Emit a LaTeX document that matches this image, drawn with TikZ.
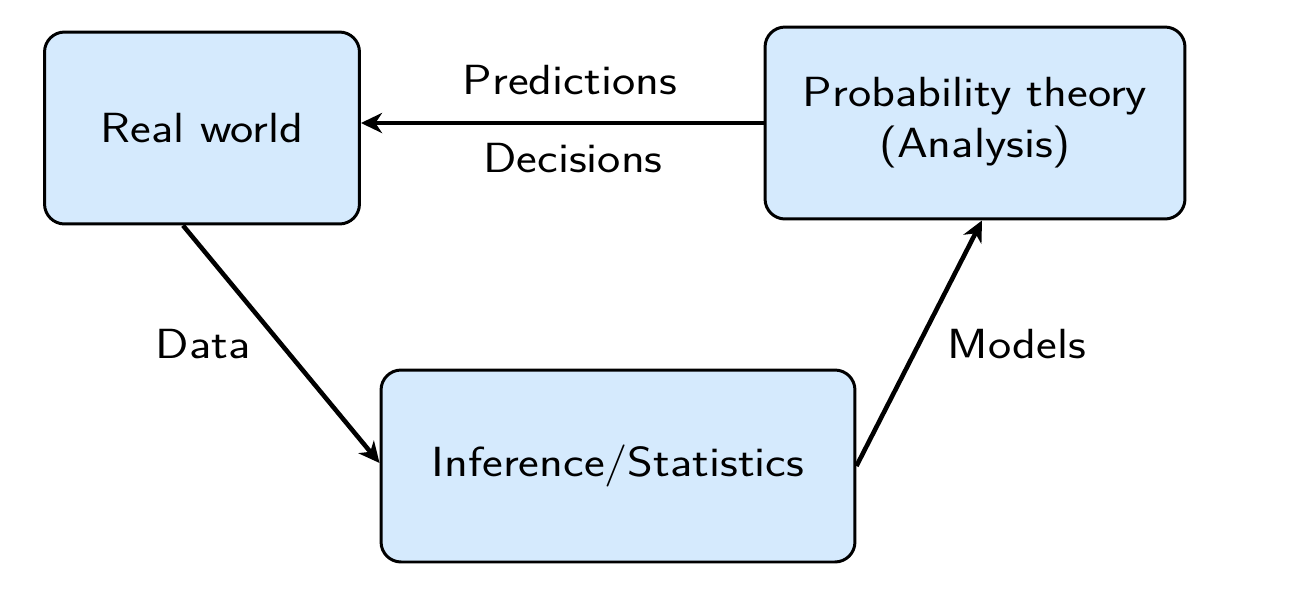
\documentclass[tikz,border=0pt]{standalone}
\usepackage{fontspec}
\setsansfont{Latin Modern Sans}[FakeStretch=1.17]
\usetikzlibrary{arrows.meta,positioning}
\definecolor{boxblue}{RGB}{213,234,253}

\tikzset{
  block/.style={draw=black, line width=1.7pt, fill=boxblue, rounded corners=0.4cm,
    minimum height=3.84cm, align=center, font=\sffamily\fontsize{24}{29}\selectfont},
  flow/.style={-{Stealth[length=0.42cm,width=0.4cm,inset=0.13cm]}, line width=2.6pt},
  lbl/.style={font=\sffamily\fontsize{24}{29}\selectfont}
}

\begin{document}
\begin{tikzpicture}[x=0.02cm, y=-0.02cm]
\useasboundingbox (0,0) rectangle (1297,603);

\node[block, minimum width=6.3cm] (realworld) at (202,128) {Real world};
\node[block, minimum width=8.4cm] (probtheory) at (975,123) {Probability theory\\(Analysis)};
\node[block, minimum width=9.48cm] (inference) at (618,466) {Inference/Statistics};

\node[lbl] (predictions) at (570,80) {Predictions};
\node[lbl] (decisions) at (573,158) {Decisions};
\node[lbl] (data) at (203,344) {Data};
\node[lbl] (models) at (1017,344) {Models};

\draw[flow] (probtheory.west) -- (probtheory.west -| realworld.east);
\draw[flow] ([xshift=-0.38cm]realworld.south) -- ([yshift=0.06cm]inference.west);
\draw[flow] (inference.east) -- ([xshift=0.14cm]probtheory.south);
\end{tikzpicture}
\end{document}
